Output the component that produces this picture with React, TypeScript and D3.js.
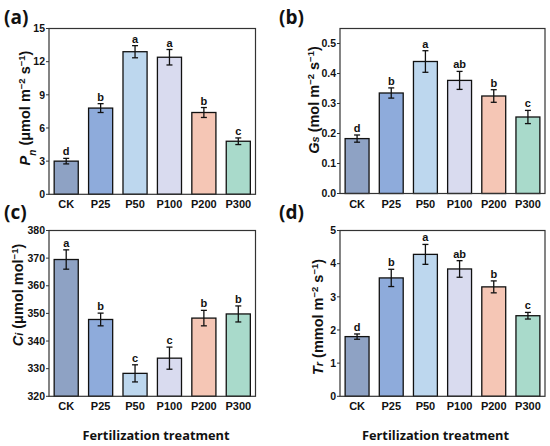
import React from "react";
import * as d3 from "d3";

const categories = ["CK", "P25", "P50", "P100", "P200", "P300"];
const colors = ["#8ea2c4", "#8eabdb", "#bdd7ee", "#d9dbef", "#f5c6b5", "#a9dacb"];

const pnValues = [3.0, 7.8, 12.9, 12.4, 7.4, 4.8];
const pnErrors = [0.25, 0.4, 0.55, 0.7, 0.45, 0.3];
const pnLetters = ["d", "b", "a", "a", "b", "c"];
const pnTicks = [0, 3, 6, 9, 12, 15];

const gsValues = [0.183, 0.335, 0.44, 0.377, 0.325, 0.255];
const gsErrors = [0.012, 0.017, 0.036, 0.03, 0.021, 0.022];
const gsLetters = ["d", "b", "a", "ab", "b", "c"];
const gsTicks = [0, 0.1, 0.2, 0.3, 0.4, 0.5];

const ciValues = [369.5, 347.8, 328.3, 333.8, 348.3, 349.8];
const ciErrors = [3.5, 2.3, 3.1, 4.0, 2.8, 2.9];
const ciLetters = ["a", "b", "c", "c", "b", "b"];
const ciTicks = [320, 330, 340, 350, 360, 370, 380];

const trValues = [1.8, 3.57, 4.28, 3.84, 3.3, 2.43];
const trErrors = [0.08, 0.26, 0.3, 0.25, 0.18, 0.1];
const trLetters = ["d", "b", "a", "ab", "b", "c"];
const trTicks = [0, 1, 2, 3, 4, 5];

type PanelProps = {
  x0: number; x1: number; y0: number; y1: number;
  domain: [number, number];
  ticks: number[];
  fmt: (v: number) => string;
  values: number[]; errors: number[]; letters: string[];
  label: string; labelX: number; labelY: number;
  title: React.ReactNode; titleX: number; titleY: number;
};

function Panel(p: PanelProps) {
  const x = d3.scaleBand<string>().domain(categories).range([p.x0, p.x1]).paddingInner(0.3).paddingOuter(0.15);
  const y = d3.scaleLinear().domain(p.domain).range([p.y1, p.y0]);
  const bw = x.bandwidth();
  const font = "Arial, 'Liberation Sans', sans-serif";
  return (
    <g>
      <text x={p.labelX} y={p.labelY} fontFamily="'Open Sans', sans-serif" fontWeight={700} fontSize={19} fill="#111">{p.label}</text>
      {categories.map((c, i) => {
        const xc = (x(c) as number) + bw / 2;
        const top = y(p.values[i] + p.errors[i]);
        const bot = y(p.values[i] - p.errors[i]);
        return (
          <g key={c}>
            <rect x={x(c)} y={y(p.values[i])} width={bw} height={p.y1 - y(p.values[i])} fill={colors[i]} stroke="#111" strokeWidth={1.3} />
            <line x1={xc} x2={xc} y1={top} y2={bot} stroke="#111" strokeWidth={1.3} />
            <line x1={xc - 3} x2={xc + 3} y1={top} y2={top} stroke="#111" strokeWidth={1.3} />
            <line x1={xc - 3} x2={xc + 3} y1={bot} y2={bot} stroke="#111" strokeWidth={1.3} />
            <text x={xc} y={top - 3} textAnchor="middle" fontFamily={font} fontWeight="bold" fontSize={11} fill="#111">{p.letters[i]}</text>
            <text x={xc} y={p.y1 + 14} textAnchor="middle" fontFamily={font} fontWeight="bold" fontSize={11} fill="#111">{c}</text>
          </g>
        );
      })}
      {p.ticks.map((t) => (
        <g key={t}>
          <line x1={p.x0 - 3} x2={p.x0} y1={y(t)} y2={y(t)} stroke="#333" strokeWidth={1} />
          <text x={p.x0 - 4} y={y(t) + 3.7} textAnchor="end" fontFamily={font} fontWeight="bold" fontSize={10.5} fill="#111">{p.fmt(t)}</text>
        </g>
      ))}
      <rect x={p.x0} y={p.y0} width={p.x1 - p.x0} height={p.y1 - p.y0} fill="none" stroke="#333" strokeWidth={1.2} />
      <text transform={`translate(${p.titleX},${p.titleY}) rotate(-90)`} textAnchor="middle" fontFamily={font} fontWeight="bold" fontSize={14.5} fill="#111">{p.title}</text>
    </g>
  );
}

export default function App() {
  const sup = (s: string) => <tspan baselineShift="super" fontSize={9.5}>{s}</tspan>;
  return (
    <svg width={550} height={446} style={{ position: "absolute", left: 0, top: 0, background: "#fff" }}>
      <Panel x0={49} x1={255.5} y0={28.5} y1={194.3} domain={[0, 15]} ticks={pnTicks} fmt={(v) => String(v)}
        values={pnValues} errors={pnErrors} letters={pnLetters} label="(a)" labelX={4} labelY={24}
        titleX={30} titleY={108}
        title={<>
          <tspan fontStyle="italic">P</tspan><tspan baselineShift="sub" fontSize={10} fontStyle="italic">n</tspan>
          <tspan> (μmol m</tspan>{sup("−2")}<tspan> s</tspan>{sup("−1")}<tspan>)</tspan>
        </>} />
      <Panel x0={340} x1={545} y0={28.5} y1={193.5} domain={[0, 0.55]} ticks={gsTicks} fmt={d3.format(".1f")}
        values={gsValues} errors={gsErrors} letters={gsLetters} label="(b)" labelX={279} labelY={24}
        titleX={319} titleY={100}
        title={<>
          <tspan fontStyle="italic">G</tspan><tspan fontStyle="italic" fontSize={11}>s</tspan>
          <tspan> (mol m</tspan>{sup("−2")}<tspan> s</tspan>{sup("−1")}<tspan>)</tspan>
        </>} />
      <Panel x0={49} x1={255.5} y0={230.5} y1={396.3} domain={[320, 380]} ticks={ciTicks} fmt={(v) => String(v)}
        values={ciValues} errors={ciErrors} letters={ciLetters} label="(c)" labelX={4} labelY={219}
        titleX={23} titleY={295}
        title={<>
          <tspan fontStyle="italic">C</tspan><tspan fontStyle="italic" fontSize={11}>i</tspan>
          <tspan> (μmol mol</tspan>{sup("−1")}<tspan>)</tspan>
        </>} />
      <Panel x0={340} x1={545} y0={230.5} y1={396.3} domain={[0, 5]} ticks={trTicks} fmt={(v) => String(v)}
        values={trValues} errors={trErrors} letters={trLetters} label="(d)" labelX={279} labelY={219}
        titleX={323} titleY={317}
        title={<>
          <tspan fontStyle="italic">T</tspan><tspan fontStyle="italic" fontSize={11}>r</tspan>
          <tspan> (mmol m</tspan>{sup("−2")}<tspan> s</tspan>{sup("−1")}<tspan>)</tspan>
        </>} />
      <text x={156} y={440} textAnchor="middle" fontFamily="'Open Sans', sans-serif" fontWeight={700} fontSize={12.8} fill="#111">Fertilization treatment</text>
      <text x={435.5} y={440} textAnchor="middle" fontFamily="'Open Sans', sans-serif" fontWeight={700} fontSize={12.8} fill="#111">Fertilization treatment</text>
    </svg>
  );
}
